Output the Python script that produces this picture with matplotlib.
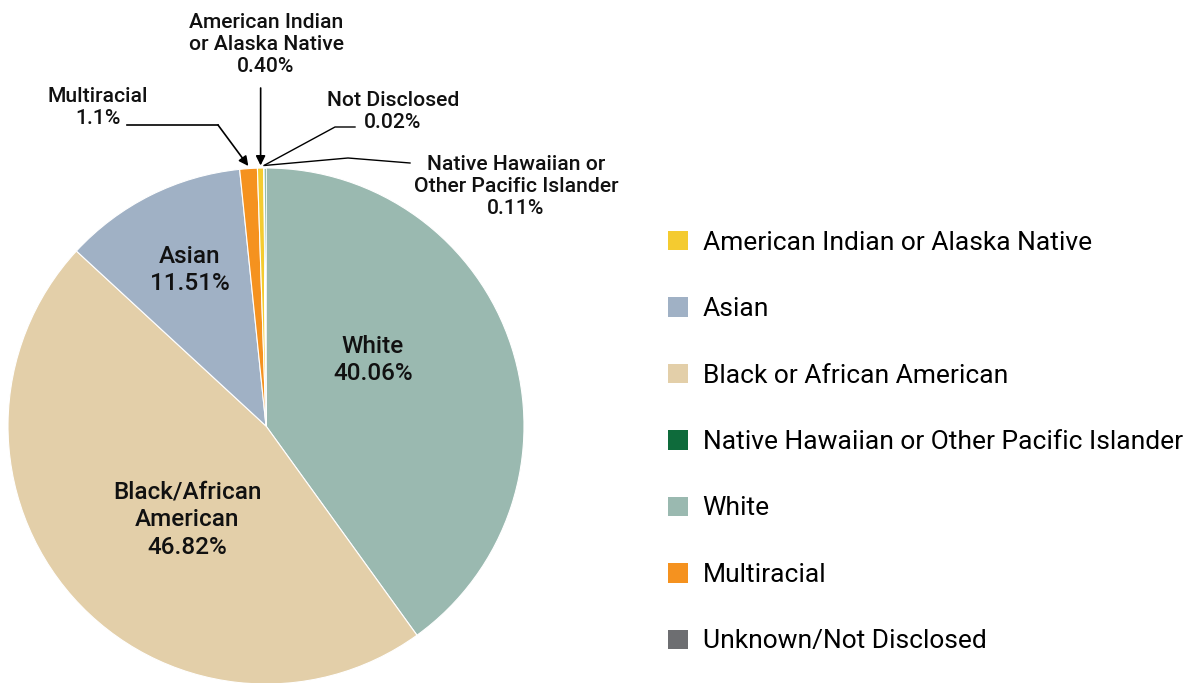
import matplotlib.pyplot as plt
from matplotlib.patches import Patch
import numpy as np

plt.rcParams['font.family'] = ['Roboto', 'DejaVu Sans']

# pie order, clockwise from 12 o'clock
groupes = ['White', 'Black or African American', 'Asian', 'Multiracial',
           'American Indian or Alaska Native', 'Unknown/Not Disclosed',
           'Native Hawaiian or Other Pacific Islander']
pourcentages = [40.06, 46.82, 11.51, 1.1, 0.40, 0.02, 0.11]
couleurs = ['#9AB9B0', '#E3CFA9', '#A0B1C5', '#F5921F', '#F4CB30', '#6D6E71', '#0E6B3B']

# legend order
ordre_legende = ['American Indian or Alaska Native', 'Asian', 'Black or African American',
                 'Native Hawaiian or Other Pacific Islander', 'White', 'Multiracial',
                 'Unknown/Not Disclosed']

W, H = 1195, 683
fig = plt.figure(figsize=(W / 100, H / 100), dpi=100)

# pie axes : centre (266, 426) px, rayon 258 px
cx, cy, r = 266, 426, 258
ax = fig.add_axes([(cx - r) / W, (H - cy - r) / H, 2 * r / W, 2 * r / H])
wedges, _ = ax.pie(pourcentages, colors=couleurs, startangle=90, counterclock=False,
                   wedgeprops=dict(edgecolor='white', linewidth=0.8))
ax.set_xlim(-1, 1)
ax.set_ylim(-1, 1)
ax.set_aspect('equal')
ax.axis('off')


def px(x, y):
    # pixel -> data coords of pie axes
    return ((x - cx) / r, (cy - y) / r)


def bord(i, frac=0.5, rad=1.0):
    # point on the rim of wedge i
    w = wedges[i]
    a = np.deg2rad(w.theta1 + (w.theta2 - w.theta1) * frac)
    return (rad * np.cos(a), rad * np.sin(a))


# labels inside
kw_in = dict(ha='center', va='center', fontsize=17.5, fontweight='medium',
             color='#111111', linespacing=1.25)
ax.text(*px(373, 360), 'White\n40.06%', **kw_in)
ax.text(*px(190, 270), 'Asian\n11.51%', **kw_in)
ax.text(*px(187, 520), 'Black/African\nAmerican\n46.82%', **kw_in)

kw_out = dict(ha='center', va='center', fontsize=15.2, fontweight='medium',
              color='#111111', linespacing=1.2, annotation_clip=False)
fleche = dict(arrowstyle='-|>', color='black', lw=1.2, mutation_scale=14,
              shrinkA=0, shrinkB=0)

# Multiracial
ax.annotate('Multiracial\n1.1%', xy=px(98, 108), **kw_out)
ax.annotate('', xy=bord(3, 0.5, 1.01), xytext=px(218, 125), arrowprops=fleche,
            annotation_clip=False)
ax.plot(*zip(px(127, 125), px(218, 125)), color='black', lw=1.2, clip_on=False)

# American Indian
ax.annotate('American Indian\nor Alaska Native\n0.40%', xy=px(266, 45), **kw_out)
ax.annotate('', xy=bord(4, 0.5, 1.01), xytext=(bord(4, 0.5)[0], px(0, 88)[1]),
            arrowprops=fleche, annotation_clip=False)

# Not Disclosed
ax.annotate('Not Disclosed\n0.02%', xy=px(393, 112), **kw_out)
ax.plot(*zip(px(355, 127), px(335, 127), bord(5, 0.5, 1.01)), color='black', lw=1.0,
        clip_on=False)

# Native Hawaiian
ax.annotate('Native Hawaiian or\nOther Pacific Islander\n0.11%', xy=px(516, 187), **kw_out)
ax.plot(*zip(px(410, 163), px(348, 158), bord(6, 0.5, 1.01)), color='black', lw=1.0,
        clip_on=False)

# legend
poignees = [Patch(facecolor=couleurs[groupes.index(g)], edgecolor='none') for g in ordre_legende]
fig.legend(poignees, ordre_legende, loc='center left', bbox_to_anchor=(668 / W, 1 - 442 / H),
           frameon=False, fontsize=19, labelspacing=1.61, handlelength=0.76,
           handleheight=0.76, handletextpad=0.55, borderpad=0, borderaxespad=0)

fig.savefig('out.png', dpi=100, facecolor='white')
